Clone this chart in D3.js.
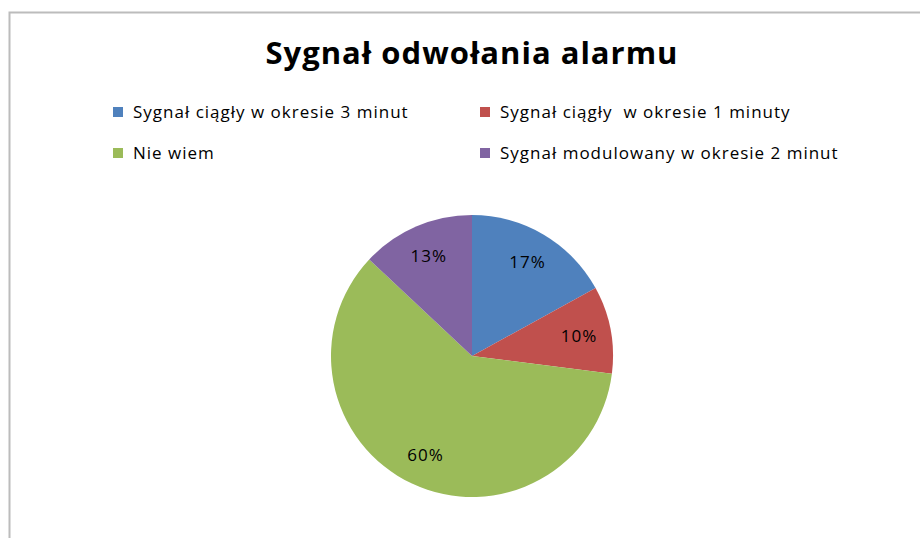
<!DOCTYPE html>
<html>
<head>
<meta charset="utf-8">
<script src="https://cdn.jsdelivr.net/npm/d3@7"></script>
<style>
  html, body { margin: 0; padding: 0; background: #fff; }
  svg { display: block; }
  text { font-family: "Open Sans", Lato, sans-serif; fill: #000; }
</style>
</head>
<body>
<div id="chart"></div>
<script>
const title = 'Sygnał odwołania alarmu';
const categories = [
  'Sygnał ciągły w okresie 3 minut',
  'Sygnał ciągły  w okresie 1 minuty',
  'Nie wiem',
  'Sygnał modulowany w okresie 2 minut'
];
const values = [17, 10, 60, 13];
const colors = ['#4F81BD', '#C0504D', '#9BBB59', '#8064A2'];

const width = 920;
const height = 538;

const svg = d3.select('#chart')
  .append('svg')
  .attr('width', width)
  .attr('height', height);

// chart frame, runs off the right and bottom edges
svg.append('rect')
  .attr('x', 9.5)
  .attr('y', 12.5)
  .attr('width', 940)
  .attr('height', 560)
  .attr('fill', '#fff')
  .attr('stroke', '#bcbcbc')
  .attr('stroke-width', 2);

svg.append('text')
  .attr('x', 472)
  .attr('y', 64)
  .attr('text-anchor', 'middle')
  .attr('font-size', 31)
  .attr('font-weight', 700)
  .attr('letter-spacing', 1)
  .text(title);

// legend: two columns, two rows
const legendX = d3.scaleOrdinal().domain([0, 1]).range([113, 480]);
const legendY = d3.scaleOrdinal().domain([0, 1]).range([107, 148]);

const legend = svg.append('g')
  .selectAll('g')
  .data(categories)
  .enter()
  .append('g')
  .attr('transform', (d, i) => `translate(${legendX(i % 2)},${legendY(Math.floor(i / 2))})`);

legend.append('rect')
  .attr('width', 10)
  .attr('height', 10)
  .attr('fill', (d, i) => colors[i]);

legend.append('text')
  .attr('x', 20)
  .attr('y', 11)
  .attr('font-size', 17)
  .attr('letter-spacing', 1)
  .attr('fill', '#1a1a1a')
  .attr('xml:space', 'preserve')
  .text(d => d);

// pie
const cx = 472;
const cy = 356;
const radius = 141;

const pie = d3.pie().sort(null).value(d => d);
const arcs = pie(values);

const arc = d3.arc().innerRadius(0).outerRadius(radius);
const labelArc = d3.arc().innerRadius(2 * 109 - radius).outerRadius(radius);

const g = svg.append('g').attr('transform', `translate(${cx},${cy})`);

g.selectAll('path')
  .data(arcs)
  .enter()
  .append('path')
  .attr('d', arc)
  .attr('fill', (d, i) => colors[i]);

g.selectAll('.label')
  .data(arcs)
  .enter()
  .append('text')
  .attr('class', 'label')
  .attr('transform', d => `translate(${labelArc.centroid(d)})`)
  .attr('text-anchor', 'middle')
  .attr('dy', '0.35em')
  .attr('font-size', 17)
  .attr('letter-spacing', 1)
  .attr('fill', '#1a1a1a')
  .text(d => `${d.data}%`);
</script>
</body>
</html>
